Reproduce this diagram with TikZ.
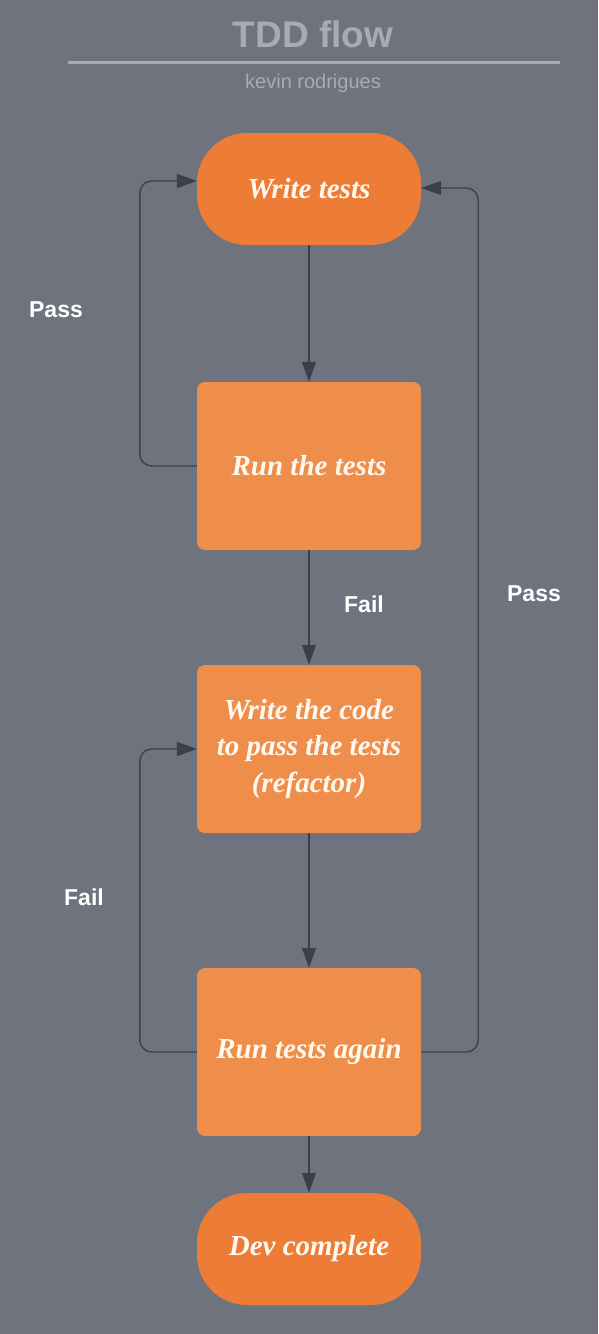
\documentclass[tikz,border=0pt]{standalone}
\usepackage{fontspec}
\setmainfont{Liberation Serif}
\setsansfont{Liberation Sans}
\usetikzlibrary{arrows.meta}
\definecolor{bg}{HTML}{6E737D}
\definecolor{termorange}{HTML}{ED7C36}
\definecolor{boxorange}{HTML}{EF8D4B}
\definecolor{conncol}{HTML}{3A3F4A}
\definecolor{titlecol}{HTML}{A6ABB6}
\definecolor{boxtext}{HTML}{FFF9F0}
\tikzset{
  term/.style={rectangle, rounded corners=50pt, fill=termorange, minimum width=224pt, minimum height=112pt, inner sep=0pt, text=boxtext, font=\bfseries\itshape\fontsize{29}{36.5}\selectfont, align=center},
  stepbox/.style={rectangle, rounded corners=8pt, fill=boxorange, minimum width=224pt, minimum height=168pt, inner sep=0pt, text=boxtext, font=\bfseries\itshape\fontsize{29}{36.5}\selectfont, align=center},
  conn/.style={draw=conncol, line width=1.4pt, rounded corners=12pt, -{Triangle[length=20pt,width=14pt]}, color=conncol},
  lbl/.style={text=white, font=\sffamily\bfseries\fontsize{23}{28}\selectfont}
}
\begin{document}
\begin{tikzpicture}[x=1pt,y=-1pt]
\fill[bg] (0,0) rectangle (598,1334);
\useasboundingbox (0,0) rectangle (598,1334);
% title
\node[text=titlecol, font=\sffamily\bfseries\fontsize{37}{44}\selectfont] (title) at (313,34) {TDD flow};
\draw[titlecol, line width=3pt] (68,62) -- (560,62);
\node[text=titlecol, font=\sffamily\fontsize{20}{24}\selectfont] (author) at (313,83) {kevin rodrigues};
% nodes
\node[term] (wt) at (309,189) {Write tests};
\node[stepbox] (rt) at (309,466) {Run the tests};
\node[stepbox] (wc) at (309,749) {Write the code\\to pass the tests\\(refactor)};
\node[stepbox] (ra) at (309,1052) {Run tests again};
\node[term] (dc) at (309,1249) {Dev complete};
% connectors
\draw[conn] (wt.south) -- (rt.north);
\draw[conn] (rt.south) -- (wc.north);
\draw[conn] (wc.south) -- (ra.north);
\draw[conn] (ra.south) -- (dc.north);
\draw[conn] (rt.west) -- ++(-57,0) |- ([yshift=8pt]wt.west);
\draw[conn] (ra.west) -- ++(-57,0) |- (wc.west);
\draw[conn] (ra.east) -- ++(57,0) |- ([yshift=1pt]wt.east);
% labels
\node[lbl] (pass1) at (56,310) {Pass};
\node[lbl] (fail1) at (364,604) {Fail};
\node[lbl] (fail2) at (84,897) {Fail};
\node[lbl] (pass2) at (534,594) {Pass};
\end{tikzpicture}
\end{document}
